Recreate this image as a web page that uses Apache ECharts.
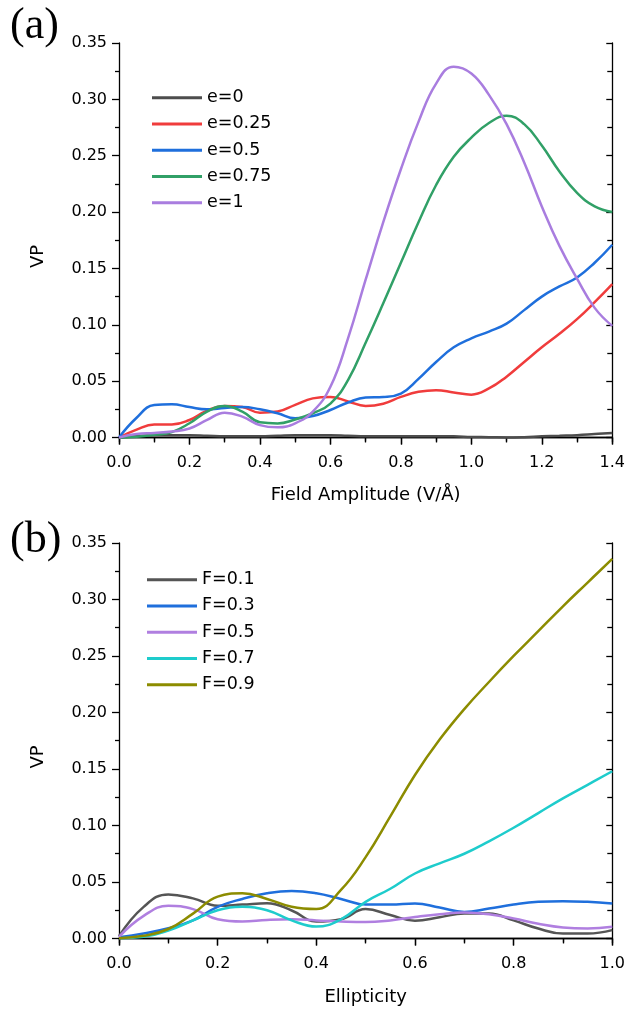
<!DOCTYPE html>
<html><head><meta charset="utf-8">
<script src="https://cdn.jsdelivr.net/npm/echarts@6/dist/echarts.min.js"></script>
<style>html,body{margin:0;padding:0;background:#fff}#c{width:628px;height:1009px}</style>
</head><body><div id="c"></div>
<script>
// ---------- panel (a): VP vs field amplitude ----------
const fieldAmp = [0,0.05,0.1,0.15,0.2,0.25,0.3,0.35,0.4,0.45,0.5,0.55,0.6,0.65,0.7,0.75,0.8,0.85,0.9,0.95,1.0,1.05,1.1,1.15,1.2,1.25,1.3,1.35,1.4];
const vpE0   = [0,0.0012,0.002,0.002,0.002,0.0015,0.001,0.001,0.001,0.0015,0.002,0.002,0.002,0.0015,0.001,0.001,0.001,0.001,0.001,0.001,0.0005,0.0003,0,0.0003,0.001,0.0015,0.002,0.003,0.004];
const vpE025 = [0,0.007,0.0115,0.0115,0.0155,0.0238,0.028,0.027,0.022,0.023,0.029,0.0347,0.036,0.032,0.028,0.030,0.036,0.0405,0.042,0.040,0.038,0.0435,0.054,0.067,0.080,0.092,0.105,0.120,0.136];
const vpE05  = [0,0.0175,0.0288,0.0295,0.027,0.025,0.0262,0.027,0.025,0.0215,0.017,0.019,0.0244,0.031,0.0355,0.036,0.039,0.052,0.067,0.080,0.088,0.094,0.101,0.113,0.125,0.134,0.142,0.155,0.171];
const vpE075 = [0,0.0007,0.0024,0.0048,0.0126,0.023,0.028,0.023,0.0135,0.0125,0.016,0.0215,0.030,0.051,0.084,0.119,0.155,0.191,0.224,0.249,0.266,0.279,0.2855,0.278,0.259,0.236,0.217,0.205,0.200];
const vpE1   = [0,0.003,0.004,0.0053,0.008,0.0156,0.022,0.0185,0.011,0.009,0.0126,0.023,0.045,0.088,0.140,0.191,0.238,0.280,0.314,0.329,0.323,0.304,0.278,0.244,0.205,0.170,0.141,0.115,0.099];
const namesA = ['e=0','e=0.25','e=0.5','e=0.75','e=1'];
const colorsA = ['#4d4d4d','#f03c3c','#1f6fdc','#31a067','#a97ddf'];
const seriesA = [vpE0, vpE025, vpE05, vpE075, vpE1];

// ---------- panel (b): VP vs ellipticity ----------
const ellipticity = [0,0.05,0.1,0.15,0.2,0.25,0.3,0.35,0.4,0.45,0.5,0.55,0.6,0.65,0.7,0.75,0.8,0.85,0.9,0.95,1.0];
const vpF01 = [0.002,0.028,0.039,0.0355,0.029,0.030,0.0312,0.0248,0.015,0.017,0.026,0.0207,0.0158,0.0188,0.022,0.022,0.016,0.0088,0.0044,0.0044,0.0074];
const vpF03 = [0.001,0.0045,0.009,0.016,0.028,0.035,0.040,0.042,0.040,0.035,0.030,0.030,0.031,0.0274,0.0235,0.0265,0.030,0.0324,0.033,0.0324,0.031];
const vpF05 = [0.0015,0.020,0.029,0.026,0.017,0.015,0.0164,0.017,0.016,0.015,0.0145,0.016,0.019,0.0215,0.023,0.0215,0.0176,0.013,0.0097,0.0088,0.0103];
const vpF07 = [0.0003,0.0015,0.007,0.016,0.025,0.028,0.025,0.016,0.0105,0.017,0.0324,0.044,0.0575,0.0665,0.075,0.086,0.098,0.111,0.124,0.136,0.148];
const vpF09 = [0.0003,0.0024,0.0084,0.022,0.037,0.040,0.035,0.028,0.026,0.043,0.072,0.108,0.1447,0.176,0.203,0.227,0.250,0.272,0.294,0.315,0.336];
const namesB = ['F=0.1','F=0.3','F=0.5','F=0.7','F=0.9'];
const colorsB = ['#555555','#1f6fdc','#b07fe0','#1ecccc','#8c8c00'];
const seriesB = [vpF01, vpF03, vpF05, vpF07, vpF09];

const yMajor = [0,0.05,0.1,0.15,0.2,0.25,0.3,0.35];
const yMinor = [0.025,0.075,0.125,0.175,0.225,0.275,0.325];

const FONT = 'DejaVu Sans';
const AX = {color:'#000', width:1.3};

function xAxes(grid, max, name, gap){
  return [
    {type:'value', gridIndex:grid, position:'bottom', min:0, max:max, interval:0.2,
     axisLine:{lineStyle:AX}, splitLine:{show:false},
     axisTick:{length:7, lineStyle:AX}, minorTick:{show:true, splitNumber:2, length:4, lineStyle:AX},
     axisLabel:{color:'#000', fontFamily:FONT, fontSize:16, margin:13, formatter:v=>v.toFixed(1)},
     name:name, nameLocation:'middle', nameGap:gap, nameTextStyle:{color:'#000', fontFamily:FONT, fontSize:18}},
    {type:'value', gridIndex:grid, position:'top', min:0, max:max, interval:0.2,
     axisLine:{lineStyle:AX}, splitLine:{show:false},
     axisTick:{inside:true, length:7, lineStyle:AX}, minorTick:{show:true, splitNumber:2, length:5, lineStyle:AX},
     axisLabel:{show:false}}
  ];
}
function yAxes(grid){
  const base = {type:'value', gridIndex:grid, min:-0.004, max:0.35, splitLine:{show:false}};
  return [
    Object.assign({}, base, {position:'left', axisLine:{show:true, lineStyle:AX},
      axisTick:{show:true, length:7, customValues:yMajor, lineStyle:AX},
      axisLabel:{color:'#000', fontFamily:FONT, fontSize:16, margin:12, customValues:yMajor, formatter:v=>v.toFixed(2)},
      name:'VP', nameLocation:'middle', nameGap:72,
      nameTextStyle:{color:'#000', fontFamily:FONT, fontSize:18, padding:[0,28,0,0]}}),
    Object.assign({}, base, {position:'left', axisLine:{show:false},
      axisTick:{show:true, length:4, customValues:yMinor, lineStyle:AX}, axisLabel:{show:false}}),
    Object.assign({}, base, {position:'right', axisLine:{show:true, lineStyle:AX},
      axisTick:{show:true, inside:true, length:6, customValues:yMajor, lineStyle:AX}, axisLabel:{show:false}}),
    Object.assign({}, base, {position:'right', axisLine:{show:false},
      axisTick:{show:true, inside:true, length:5, customValues:yMinor, lineStyle:AX}, axisLabel:{show:false}})
  ];
}
function mkSeries(names, colors, data, xs, xi, yi){
  return names.map((n,k)=>({
    name:n, type:'line', xAxisIndex:xi, yAxisIndex:yi, smooth:0.45, symbol:'none',
    lineStyle:{color:colors[k], width:2.5}, itemStyle:{color:colors[k]},
    data: xs.map((x,i)=>[x, data[k][i]])
  }));
}
function mkLegend(names, left, top){
  return {data:names, orient:'vertical', left:left, top:top, padding:0, icon:'rect', itemWidth:50, itemHeight:3,
    itemGap:5, textStyle:{color:'#000', fontFamily:FONT, fontSize:17.5, lineHeight:21.3, padding:[0,0,0,0]}};
}

const chart = echarts.init(document.getElementById('c'), null, {renderer:'canvas'});
chart.setOption({
  animation:false,
  backgroundColor:'#fff',
  title:[
    {text:'(a)', left:6, top:0, padding:[4,4,4,4], textStyle:{fontFamily:'Liberation Serif', fontSize:44, fontWeight:'normal', color:'#000'}},
    {text:'(b)', left:6, top:514, padding:[4,4,4,4], textStyle:{fontFamily:'Liberation Serif', fontSize:44, fontWeight:'normal', color:'#000'}}
  ],
  grid:[
    {left:119, top:43, width:496, height:399},
    {left:119, top:543, width:496, height:400}
  ],
  xAxis:[].concat(xAxes(0,1.4,'Field Amplitude (V/Å)',44), xAxes(1,1.0,'Ellipticity',45)),
  yAxis:[].concat(yAxes(0), yAxes(1)),
  legend:[mkLegend(namesA,152,87), mkLegend(namesB,147,569)],
  series:[].concat(mkSeries(namesA,colorsA,seriesA,fieldAmp,0,0), mkSeries(namesB,colorsB,seriesB,ellipticity,2,4))
});
</script></body></html>
